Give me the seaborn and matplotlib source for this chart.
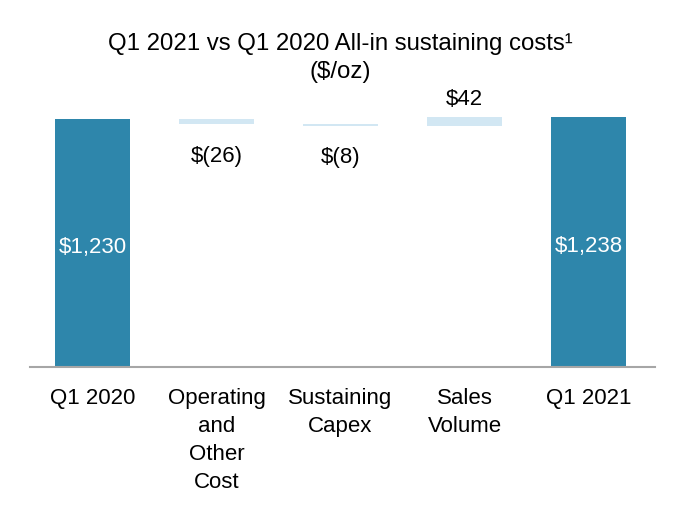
import matplotlib
matplotlib.use("Agg")
import matplotlib.pyplot as plt
import seaborn as sns
import numpy as np

categories = ["Q1 2020", "Operating\nand\nOther\nCost", "Sustaining\nCapex", "Sales\nVolume", "Q1 2021"]
changes = [1230, -26, -8, 42, 1238]
is_total = [True, False, False, False, True]
value_labels = ["$1,230", "$(26)", "$(8)", "$42", "$1,238"]

dark_blue = "#2E86AB"
light_blue = "#D2E7F3"

# waterfall bases / heights
bases = []
heights = []
running = 0
for val, tot in zip(changes, is_total):
    if tot:
        bases.append(0)
        heights.append(val)
        running = val
    else:
        if val < 0:
            bases.append(running + val)
        else:
            bases.append(running)
        heights.append(abs(val))
        running += val

sns.set_style("white")
plt.rcParams["font.family"] = ["Liberation Sans", "DejaVu Sans"]
plt.rcParams["text.color"] = "black"

fig = plt.figure(figsize=(6.8, 5.2), dpi=100)
ax = fig.add_axes([30 / 680, 1 - 367 / 520, 625 / 680, 267 / 520])

sns.barplot(x=categories, y=heights, bottom=bases, order=categories,
            color=dark_blue, width=0.6, saturation=1, ax=ax)
for patch, tot in zip(ax.patches, is_total):
    patch.set_facecolor(dark_blue if tot else light_blue)
    patch.set_edgecolor("none")

ax.set_ylim(0, 1324)
ax.set_xlim(-0.504, 4.536)

fs = 16
for i, (b, h, val, tot, lab) in enumerate(zip(bases, heights, changes, is_total, value_labels)):
    if tot:
        ax.text(i, h / 2 - 22, lab, ha="center", va="center", color="white", fontsize=fs)
    elif val < 0:
        ax.annotate(lab, (i, b), xytext=(0, -32), textcoords="offset pixels",
                    ha="center", va="center", color="black", fontsize=fs)
    else:
        ax.annotate(lab, (i, b + h), xytext=(0, 18), textcoords="offset pixels",
                    ha="center", va="center", color="black", fontsize=fs)

for s in ["top", "right", "left"]:
    ax.spines[s].set_visible(False)
ax.spines["bottom"].set_color("#A6A6A6")
ax.spines["bottom"].set_linewidth(1.5)
ax.set_yticks([])
ax.tick_params(axis="x", length=0, labelsize=fs, pad=15, colors="black")
for t in ax.get_xticklabels():
    t.set_linespacing(1.44)
    t.set_va("top")

fig.text(0.5, 1 - 58 / 520, "Q1 2021 vs Q1 2020 All-in sustaining costs\u00b9\n($/oz)",
         ha="center", va="center", fontsize=17.3, linespacing=1.3, color="black")

fig.savefig("out.png", dpi=100)
